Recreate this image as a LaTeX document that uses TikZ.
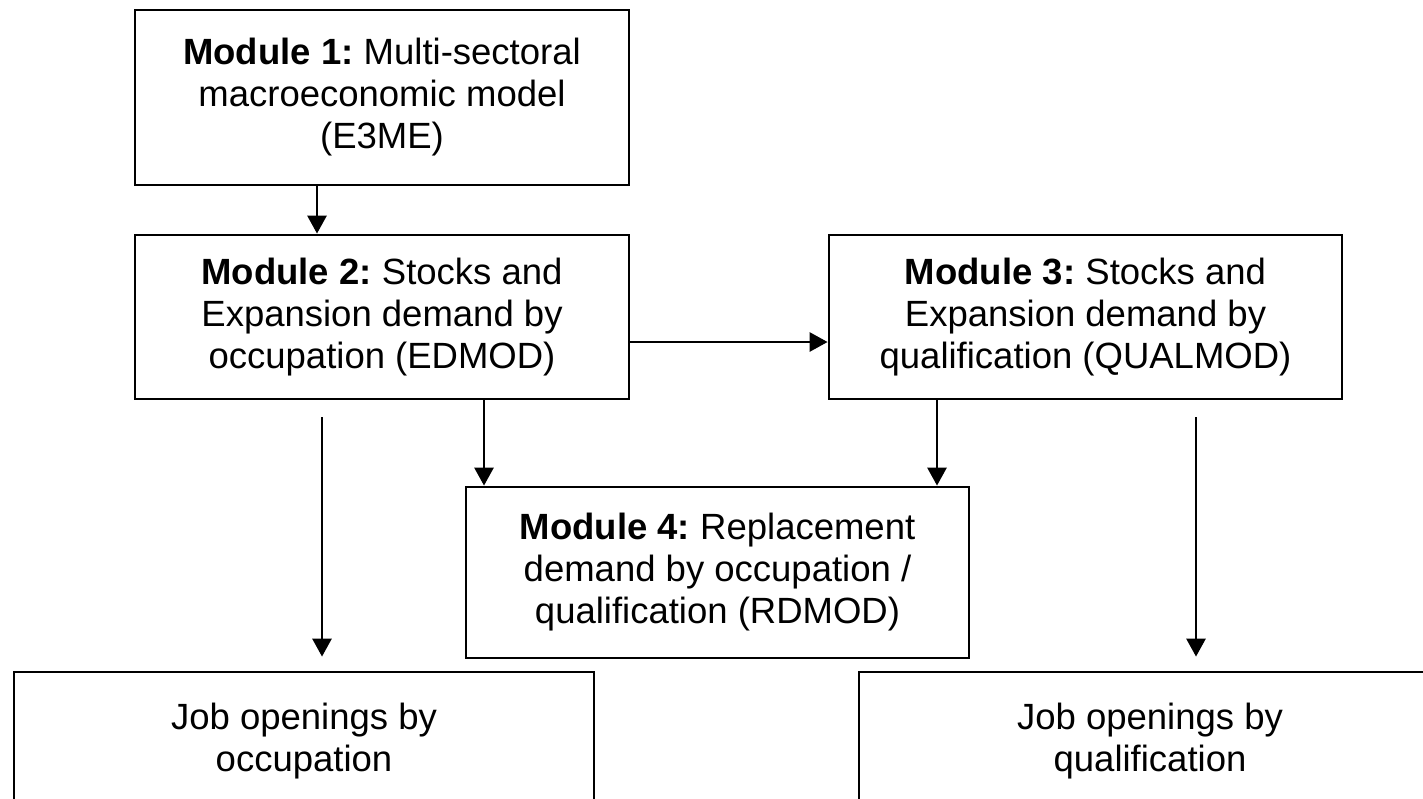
\documentclass[tikz,border=0pt]{standalone}
\usepackage{fontspec}
\setmainfont{Liberation Sans}
\usetikzlibrary{arrows.meta}
\frenchspacing
\begin{document}
\begin{tikzpicture}[x=1pt,y=1pt,
  box/.style={draw=black, line width=2.8pt, align=center, inner sep=0pt,
    font=\fontsize{36.5pt}{42pt}\selectfont},
  arr/.style={line width=2.8pt, -{Triangle[length=18pt,width=19pt]}}]
\useasboundingbox (0,0) rectangle (1423,-798);
\clip (0,0) rectangle (1423,-798);
\fill[white] (0,0) rectangle (1423,-798);
\node[box, minimum width=494pt, minimum height=175pt] (b1) at (382,-97.5)
  {\textbf{Module 1:} Multi-sectoral\\macroeconomic model\\(E3ME)};
\node[box, minimum width=494pt, minimum height=164pt] (b2) at (382,-317)
  {\textbf{Module 2:} Stocks and\\Expansion demand by\\occupation (EDMOD)};
\node[box, minimum width=513pt, minimum height=164pt] (b3) at (1085.5,-317)
  {\textbf{Module 3:} Stocks and\\Expansion demand by\\qualification (QUALMOD)};
\node[box, minimum width=503pt, minimum height=171pt] (b4) at (717.5,-572.5)
  {\textbf{Module 4:} Replacement\\demand by occupation /\\qualification (RDMOD)};
\node[box, minimum width=580pt, minimum height=138pt] (b5) at (304,-741)
  {Job openings by\\occupation};
\node[box, minimum width=582pt, minimum height=138pt] (b6) at (1150,-741)
  {Job openings by\\qualification};
\coordinate (l1) at (322,-417);
\coordinate (r1) at (1196,-417);
\draw[arr] ([xshift=-65pt]b1.south) -- ([xshift=-65pt]b1.south |- b2.north);
\draw[arr] ([yshift=-25pt]b2.east) -- ([yshift=-25pt]b2.east -| b3.west);
\draw[arr] ([xshift=102pt]b2.south) -- ([xshift=102pt]b2.south |- b4.north);
\draw[arr] ([xshift=-148.5pt]b3.south) -- ([xshift=-148.5pt]b3.south |- b4.north);
\draw[arr] (l1) -- ([yshift=14pt]l1 |- b5.north);
\draw[arr] (r1) -- ([yshift=14pt]r1 |- b6.north);
\end{tikzpicture}
\end{document}
